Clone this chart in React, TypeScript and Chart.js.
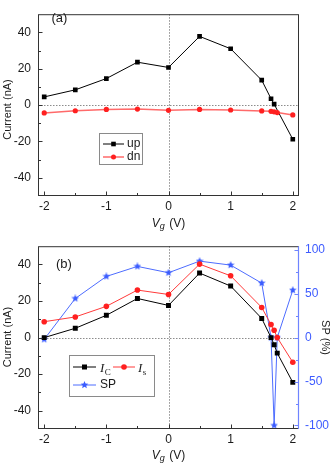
import React, { useEffect, useRef } from "react";
import { Chart, registerables } from "chart.js";

Chart.register(...registerables);

// ---------- data ----------
// panel (a)
const vgUp = [-2, -1.5, -1, -0.5, 0, 0.5, 1, 1.5, 1.65, 1.7, 2];
const upCurrent = [4.5, 8.4, 14.6, 23.6, 20.7, 37.8, 31, 13.7, 3.5, 0.5, -18.8];
const vgDn = [-2, -1.5, -1, -0.5, 0, 0.5, 1, 1.5, 1.65, 1.7, 1.75, 2];
const dnCurrent = [-4.3, -3.1, -2.4, -2.2, -2.9, -2.4, -2.7, -3.2, -3.4, -3.7, -4.1, -5.4];

// panel (b)
const vgB = [-2, -1.5, -1, -0.5, 0, 0.5, 1, 1.5, 1.65, 1.7, 1.75, 2];
const icCurrent = [0, 5.1, 12.2, 21.4, 17.6, 35.3, 28.2, 10.5, 0, -3.9, -8.5, -24.5];
const isCurrent = [8.7, 11.3, 17.1, 26, 23.6, 40.2, 33.8, 16.5, 7.1, 4, 0, -13.5];
const spPercent = [-2, 44.5, 69.6, 81, 73.8, 87, 82.5, 62, 0, -100, 0, 54];

// ticks
const vgTicks = [-2, -1, 0, 1, 2];
const vgMinorTicks = [-1.5, -0.5, 0.5, 1.5];
const currentTicks = [-40, -20, 0, 20, 40];
const currentMinorTicks = [-30, -10, 10, 30];
const spTicks = [-100, -50, 0, 50, 100];
const spMinorTicks = [-75, -25, 25, 75];

// ---------- styles ----------
const FONT = "'Liberation Sans', Arial, sans-serif";
const SERIF = "'Liberation Serif', 'Times New Roman', serif";
const AXIS = "#333333";
const TEXT = "#1a1a1a";
const BLACK = "#000000";
const RED = "#ff2020";
const RED_LINE_A = "#ff6a6a";
const RED_LINE_B = "#ff3a3a";
const BLUE = "#3a5cff";
const BLUE_LINE = "#4d6cff";
const BLUE_AXIS = "#6f84ff";
const BLUE_TEXT = "#3d5bff";

const pts = (xs: number[], ys: number[]) => xs.map((x, i) => ({ x, y: ys[i] }));

function starPath(ctx: CanvasRenderingContext2D, cx: number, cy: number, R: number) {
  const r = R * 0.45;
  ctx.beginPath();
  for (let i = 0; i < 10; i++) {
    const ang = -Math.PI / 2 + (i * Math.PI) / 5;
    const rad = i % 2 ? r : R;
    ctx.lineTo(cx + rad * Math.cos(ang), cy + rad * Math.sin(ang));
  }
  ctx.closePath();
}

function makeStar(color: string, size: number) {
  const c = document.createElement("canvas");
  c.width = size;
  c.height = size;
  const ctx = c.getContext("2d")!;
  ctx.fillStyle = color;
  starPath(ctx, size / 2, size / 2, size / 2);
  ctx.fill();
  return c;
}

function drawMarker(ctx: CanvasRenderingContext2D, kind: string, x: number, y: number, color: string, s: number) {
  ctx.save();
  ctx.fillStyle = color;
  if (kind === "rect") {
    ctx.fillRect(x - s / 2, y - s / 2, s, s);
  } else if (kind === "circle") {
    ctx.beginPath();
    ctx.arc(x, y, s / 2, 0, Math.PI * 2);
    ctx.fill();
  } else {
    starPath(ctx, x, y, s / 2);
    ctx.fill();
  }
  ctx.restore();
}

function hline(ctx: CanvasRenderingContext2D, x1: number, x2: number, y: number, color: string, w = 1) {
  ctx.save();
  ctx.strokeStyle = color;
  ctx.lineWidth = w;
  ctx.beginPath();
  ctx.moveTo(x1, y);
  ctx.lineTo(x2, y);
  ctx.stroke();
  ctx.restore();
}

function drawVgTitle(ctx: CanvasRenderingContext2D, cx: number, cy: number) {
  ctx.save();
  ctx.fillStyle = TEXT;
  ctx.textBaseline = "alphabetic";
  ctx.font = `italic 12px ${FONT}`;
  const wV = ctx.measureText("V").width;
  ctx.font = `italic 9px ${FONT}`;
  const wg = ctx.measureText("g").width;
  ctx.font = `12px ${FONT}`;
  const wr = ctx.measureText(" (V)").width;
  let x = cx - (wV + wg + 1 + wr) / 2;
  const base = cy + 4.5;
  ctx.font = `italic 12px ${FONT}`;
  ctx.fillText("V", x, base);
  x += wV;
  ctx.font = `italic 9px ${FONT}`;
  ctx.fillText("g", x, base + 2.5);
  x += wg + 1;
  ctx.font = `12px ${FONT}`;
  ctx.fillText(" (V)", x, base);
  ctx.restore();
}

function drawRotated(ctx: CanvasRenderingContext2D, text: string, x: number, y: number, angle: number, font: string, color: string) {
  ctx.save();
  ctx.translate(x, y);
  ctx.rotate(angle);
  ctx.font = font;
  ctx.fillStyle = color;
  ctx.textAlign = "center";
  ctx.textBaseline = "middle";
  ctx.fillText(text, 0, 0);
  ctx.restore();
}

function drawSubLabel(ctx: CanvasRenderingContext2D, x: number, y: number, main: string, sub: string) {
  ctx.save();
  ctx.fillStyle = TEXT;
  ctx.textBaseline = "alphabetic";
  ctx.font = `italic 13px ${SERIF}`;
  ctx.fillText(main, x, y + 4.5);
  const w = ctx.measureText(main).width;
  ctx.font = `9px ${SERIF}`;
  ctx.fillText(sub, x + w + 0.5, y + 7.5);
  ctx.restore();
}

function panelPlugin(panel: "a" | "b") {
  return {
    id: "panel_" + panel,
    beforeDatasetsDraw(chart: any) {
      const { ctx, chartArea: a, scales } = chart;
      ctx.save();
      ctx.strokeStyle = "#8c8c8c";
      ctx.lineWidth = 1;
      ctx.setLineDash([1.5, 1.5]);
      const px = Math.round(scales.x.getPixelForValue(0)) + 0.5;
      const py = Math.round(scales.y.getPixelForValue(0)) + 0.5;
      ctx.beginPath();
      ctx.moveTo(px, a.top);
      ctx.lineTo(px, a.bottom);
      ctx.moveTo(a.left, py);
      ctx.lineTo(a.right, py);
      ctx.stroke();
      ctx.restore();
    },
    afterDatasetsDraw(chart: any) {
      const { ctx, chartArea: a, scales } = chart;
      const L = a.left + 0.5;
      const R = a.right - 0.5;
      const T = a.top + 0.5;
      const B = a.bottom - 0.5;
      ctx.save();
      ctx.lineWidth = 1;
      ctx.strokeStyle = AXIS;
      ctx.strokeRect(L, T, R - L, B - T);
      // x ticks (inward)
      ctx.beginPath();
      vgTicks.forEach((v) => {
        const p = Math.round(scales.x.getPixelForValue(v)) + 0.5;
        ctx.moveTo(p, B);
        ctx.lineTo(p, B - 4);
      });
      vgMinorTicks.forEach((v) => {
        const p = Math.round(scales.x.getPixelForValue(v)) + 0.5;
        ctx.moveTo(p, B);
        ctx.lineTo(p, B - 2.5);
      });
      // left y ticks
      currentTicks.forEach((v) => {
        const p = Math.round(scales.y.getPixelForValue(v)) + 0.5;
        ctx.moveTo(L, p);
        ctx.lineTo(L + 4, p);
      });
      currentMinorTicks.forEach((v) => {
        const p = Math.round(scales.y.getPixelForValue(v)) + 0.5;
        ctx.moveTo(L, p);
        ctx.lineTo(L + 2.5, p);
      });
      ctx.stroke();

      if (panel === "b") {
        // right SP axis in blue
        ctx.strokeStyle = BLUE_AXIS;
        ctx.lineWidth = 1.2;
        ctx.beginPath();
        ctx.moveTo(R, a.top);
        ctx.lineTo(R, a.bottom);
        spTicks.forEach((v) => {
          const p = Math.round(scales.y2.getPixelForValue(v)) + 0.5;
          ctx.moveTo(R, p);
          ctx.lineTo(R - 4, p);
        });
        spMinorTicks.forEach((v) => {
          const p = Math.round(scales.y2.getPixelForValue(v)) + 0.5;
          ctx.moveTo(R, p);
          ctx.lineTo(R - 2.5, p);
        });
        ctx.stroke();
      }
      ctx.restore();

      // axis titles
      drawVgTitle(ctx, (a.left + a.right) / 2, 222);
      drawRotated(ctx, "Current (nA)", 7.5, panel === "a" ? 109.5 : 105, -Math.PI / 2, `11px ${FONT}`, TEXT);
      if (panel === "b") {
        drawRotated(ctx, "SP (%)", 325, 105.5, Math.PI / 2, `11px ${FONT}`, TEXT);
      }

      // panel label
      ctx.save();
      ctx.fillStyle = TEXT;
      ctx.font = `13px ${FONT}`;
      ctx.textBaseline = "middle";
      if (panel === "a") ctx.fillText("(a)", 51.5, 18);
      else ctx.fillText("(b)", 56, 32);
      ctx.restore();

      // legends
      ctx.save();
      ctx.strokeStyle = "#8a8a8a";
      ctx.lineWidth = 1;
      if (panel === "a") {
        ctx.strokeRect(99.5, 133.5, 43, 31);
        hline(ctx, 103, 124, 144, BLACK, 1);
        drawMarker(ctx, "rect", 113.5, 144, BLACK, 4.6);
        hline(ctx, 103, 124, 157, RED_LINE_A, 1.5);
        drawMarker(ctx, "circle", 113.5, 157, RED, 5);
        ctx.fillStyle = TEXT;
        ctx.font = `12px ${FONT}`;
        ctx.textBaseline = "middle";
        ctx.fillText("up", 127, 144);
        ctx.fillText("dn", 127, 157);
      } else {
        ctx.strokeRect(69.5, 123.5, 85, 41);
        hline(ctx, 73, 96, 135, BLACK, 1);
        drawMarker(ctx, "rect", 84.5, 135, BLACK, 5);
        drawSubLabel(ctx, 100, 135, "I", "C");
        hline(ctx, 113, 135, 135, RED_LINE_B, 1);
        drawMarker(ctx, "circle", 124, 135, RED, 5.6);
        drawSubLabel(ctx, 138, 135, "I", "s");
        hline(ctx, 73, 96, 153, BLUE_LINE, 1);
        drawMarker(ctx, "star", 84.5, 153, BLUE, 8);
        ctx.fillStyle = TEXT;
        ctx.font = `12px ${FONT}`;
        ctx.textBaseline = "middle";
        ctx.fillText("SP", 100, 153);
      }
      ctx.restore();
    },
  };
}

const setTicks = (arr: number[]) => (s: any) => {
  s.ticks = arr.map((v) => ({ value: v }));
};

function xScale(height: number) {
  return {
    type: "linear",
    min: -2.1,
    max: 2.1,
    afterBuildTicks: setTicks(vgTicks),
    afterFit: (s: any) => {
      s.height = height;
    },
    grid: { display: false, drawTicks: false },
    border: { display: false },
    ticks: { color: TEXT, font: { size: 12, family: FONT }, padding: 3, maxRotation: 0, autoSkip: false },
  };
}

function yScale() {
  return {
    type: "linear",
    position: "left",
    min: -50,
    max: 50,
    afterBuildTicks: setTicks(currentTicks),
    afterFit: (s: any) => {
      s.width = 38;
    },
    grid: { display: false, drawTicks: false },
    border: { display: false },
    ticks: { color: TEXT, font: { size: 12, family: FONT }, padding: 7, autoSkip: false },
  };
}

function configA(): any {
  return {
    type: "line",
    data: {
      datasets: [
        {
          label: "up",
          data: pts(vgUp, upCurrent),
          borderColor: BLACK,
          backgroundColor: BLACK,
          borderWidth: 1,
          pointStyle: "rect",
          pointRadius: 3.3,
          pointBorderWidth: 0,
          order: 1,
        },
        {
          label: "dn",
          data: pts(vgDn, dnCurrent),
          borderColor: RED_LINE_A,
          backgroundColor: RED,
          pointBackgroundColor: RED,
          borderWidth: 1.5,
          pointStyle: "circle",
          pointRadius: 2.6,
          pointBorderWidth: 0,
          order: 0,
        },
      ],
    },
    options: {
      responsive: false,
      animation: false,
      devicePixelRatio: 1,
      layout: { padding: { top: 1, right: 33, bottom: 0, left: 0 } },
      plugins: { legend: { display: false }, tooltip: { enabled: false } },
      scales: { x: xScale(36), y: yScale() },
    },
    plugins: [panelPlugin("a")],
  };
}

function configB(): any {
  const star = makeStar(BLUE, 8);
  return {
    type: "line",
    data: {
      datasets: [
        {
          label: "Ic",
          data: pts(vgB, icCurrent),
          borderColor: BLACK,
          backgroundColor: BLACK,
          borderWidth: 1,
          pointStyle: "rect",
          pointRadius: 3.5,
          pointBorderWidth: 0,
          yAxisID: "y",
        },
        {
          label: "Is",
          data: pts(vgB, isCurrent),
          borderColor: RED_LINE_B,
          backgroundColor: RED,
          pointBackgroundColor: RED,
          borderWidth: 1,
          pointStyle: "circle",
          pointRadius: 2.8,
          pointBorderWidth: 0,
          yAxisID: "y",
        },
        {
          label: "SP",
          data: pts(vgB, spPercent),
          borderColor: BLUE_LINE,
          backgroundColor: BLUE,
          borderWidth: 1,
          pointStyle: star,
          pointRadius: 4,
          pointBorderWidth: 0,
          yAxisID: "y2",
        },
      ],
    },
    options: {
      responsive: false,
      animation: false,
      devicePixelRatio: 1,
      layout: { padding: { top: 14, right: 0, bottom: 0, left: 0 } },
      plugins: { legend: { display: false }, tooltip: { enabled: false } },
      scales: {
        x: xScale(35),
        y: yScale(),
        y2: {
          type: "linear",
          position: "right",
          min: -104,
          max: 104,
          afterBuildTicks: setTicks(spTicks),
          afterFit: (s: any) => {
            s.width = 33;
          },
          grid: { display: false, drawTicks: false },
          border: { display: false },
          ticks: { color: BLUE_TEXT, font: { size: 12, family: FONT }, padding: 6, autoSkip: false },
        },
      },
    },
    plugins: [panelPlugin("b")],
  };
}

export default function App() {
  const refA = useRef<HTMLCanvasElement>(null);
  const refB = useRef<HTMLCanvasElement>(null);
  useEffect(() => {
    const a = new Chart(refA.current as HTMLCanvasElement, configA());
    const b = new Chart(refB.current as HTMLCanvasElement, configB());
    return () => {
      a.destroy();
      b.destroy();
    };
  }, []);
  return (
    <div style={{ position: "absolute", left: 0, top: 0, width: 332, height: 464, background: "#ffffff" }}>
      <canvas ref={refA} width={332} height={232} style={{ display: "block", width: 332, height: 232 }} />
      <canvas ref={refB} width={332} height={232} style={{ display: "block", width: 332, height: 232 }} />
    </div>
  );
}
